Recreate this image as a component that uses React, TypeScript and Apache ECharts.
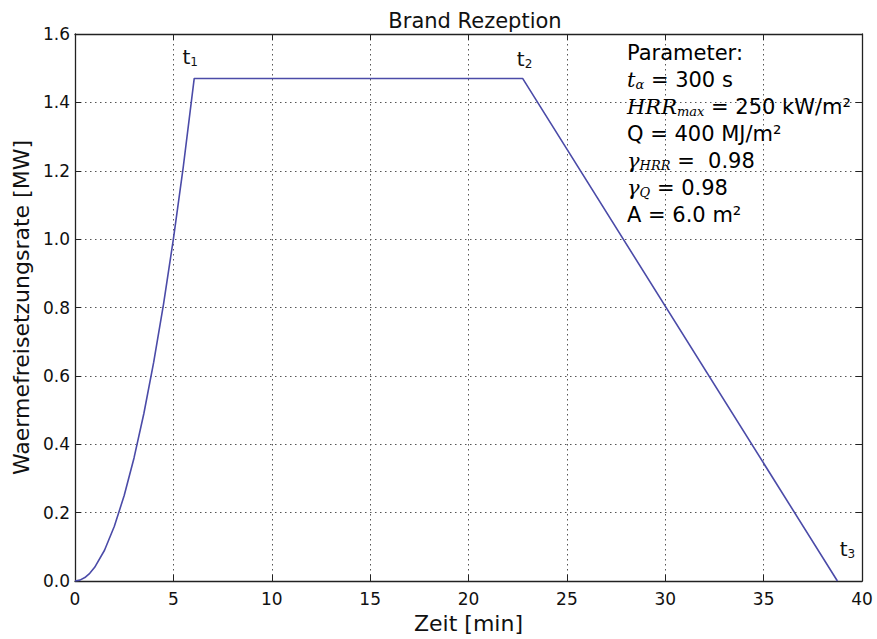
import React, { useEffect, useRef } from "react";
import * as echarts from "echarts";

const timeMin = [0, 0.25, 0.5, 0.75, 1, 1.5, 2, 2.5, 3, 3.5, 4, 4.5, 5, 5.5, 6.06, 22.75, 38.75];
const hrrMW = [0, 0.0025, 0.01, 0.0225, 0.04, 0.09, 0.16, 0.25, 0.36, 0.49, 0.64, 0.81, 1.0, 1.21, 1.47, 1.47, 0];
const xTicks = [0, 5, 10, 15, 20, 25, 30, 35, 40];
const yTicks = [0, 0.2, 0.4, 0.6, 0.8, 1.0, 1.2, 1.4, 1.6];
const phaseLabels = [
  { name: "1", x: 6.06, y: 1.47 },
  { name: "2", x: 22.75, y: 1.47 },
  { name: "3", x: 38.75, y: 0 },
];

const FONT = "DejaVu Sans";
const SERIF = "DejaVu Serif";

export default function App() {
  const ref = useRef<HTMLDivElement>(null);
  useEffect(() => {
    const chart = echarts.init(ref.current!, null, { renderer: "svg" });
    const gridLine = { show: true, lineStyle: { color: "#555", type: [1.5, 3.5] as any, width: 1 } };
    const lineColor = "#4b4ba8";
    const axisBase = {
      axisLine: { show: true, onZero: false, lineStyle: { color: "#222", width: 1.3 } },
      axisTick: { show: true, inside: true, length: 6, lineStyle: { color: "#222" } },
    };
    const rich = {
      t: { fontFamily: FONT, fontSize: 20, color: "#111" },
      s: { fontFamily: FONT, fontSize: 12, color: "#111", padding: [10, 0, 0, 0] },
    };
    const markData = phaseLabels.map((p, i) => ({
      coord: [p.x, p.y],
      label: {
        formatter: "{t|t}{s|" + p.name + "}",
        offset: i === 0 ? [-4, -21] : i === 1 ? [2, -19] : [10, -32],
      },
    }));
    const mi = { fontFamily: SERIF, fontStyle: "italic", fontSize: 21, color: "#111" };
    const sub = { fontFamily: SERIF, fontStyle: "italic", fontSize: 13, color: "#111", padding: [9, 0, 0, 0] };
    const nrm = { fontFamily: FONT, fontSize: 21, color: "#111" };
    const lines = [
      "{n|Parameter:}",
      "{m|t}{s|α}{n| = 300 s}",
      "{m|HRR}{s|max}{n| = 250 kW/m²}",
      "{n|Q = 400 MJ/m²}",
      "{m|γ}{s|HRR}{n| =  0.98}",
      "{m|γ}{s|Q}{n| = 0.98}",
      "{n|A = 6.0 m²}",
    ];
    chart.setOption({
      animation: false,
      backgroundColor: "#fff",
      title: {
        text: "Brand Rezeption",
        left: 470,
        top: 5,
        textAlign: "center",
        textStyle: { fontFamily: FONT, fontSize: 21, fontWeight: "normal", color: "#111" },
      },
      grid: { left: 75, right: 15, top: 34, bottom: 57, containLabel: false },
      xAxis: [
        {
          type: "value",
          min: 0,
          max: 40,
          interval: 5,
          name: "Zeit [min]",
          nameLocation: "middle",
          nameGap: 31,
          nameTextStyle: { fontFamily: FONT, fontSize: 22, color: "#111" },
          axisLabel: { fontFamily: FONT, fontSize: 17, color: "#111", margin: 9, formatter: (v: number) => (xTicks.includes(v) ? String(v) : "") },
          splitLine: gridLine,
          ...axisBase,
        },
        {
          type: "value",
          position: "top",
          min: 0,
          max: 40,
          interval: 5,
          axisLabel: { show: false },
          splitLine: { show: false },
          ...axisBase,
        },
      ],
      yAxis: [
        {
          type: "value",
          min: 0,
          max: 1.6,
          interval: 0.2,
          name: "Waermefreisetzungsrate [MW]",
          nameLocation: "middle",
          nameGap: 35,
          nameTextStyle: { fontFamily: FONT, fontSize: 22, color: "#111" },
          axisLabel: { fontFamily: FONT, fontSize: 17, color: "#111", margin: 5, formatter: (v: number) => (yTicks.some((t) => Math.abs(t - v) < 1e-6) ? v.toFixed(1) : "") },
          splitLine: gridLine,
          ...axisBase,
        },
        {
          type: "value",
          position: "right",
          min: 0,
          max: 1.6,
          interval: 0.2,
          axisLabel: { show: false },
          splitLine: { show: false },
          ...axisBase,
        },
      ],
      series: [
        {
          type: "line",
          data: timeMin.map((t, i) => [t, hrrMW[i]]),
          showSymbol: false,
          symbol: "none",
          lineStyle: { color: lineColor, width: 1.6 },
          markPoint: {
            symbol: "circle",
            symbolSize: 0,
            label: { show: true, position: "inside", rich },
            data: markData,
          },
        },
      ],
      graphic: lines.map((l, i) => ({
        type: "text",
        left: 627,
        top: 42 + i * 27,
        z: 100,
        style: { text: l, rich: { n: nrm, m: mi, s: sub } },
      })),
    });
    return () => chart.dispose();
  }, []);
  return <div ref={ref} style={{ position: "fixed", left: 0, top: 0, width: 877, height: 639 }} />;
}
